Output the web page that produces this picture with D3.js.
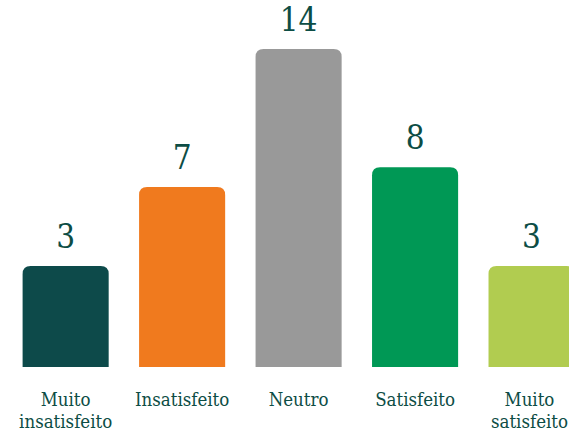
<!DOCTYPE html>
<html>
<head>
<meta charset="utf-8">
<script src="https://cdn.jsdelivr.net/npm/d3@7"></script>
<style>
  body { margin: 0; background: #fff; }
  svg { display: block; }
</style>
</head>
<body>
<div id="chart"></div>
<script>
(function() {
  const categories = ['Muito insatisfeito', 'Insatisfeito', 'Neutro', 'Satisfeito', 'Muito satisfeito']
  const values = [3, 7, 14, 8, 3]
  const labelLines = [['Muito', 'insatisfeito'], ['Insatisfeito'], ['Neutro'], ['Satisfeito'], ['Muito', 'satisfeito']]
  const colors = ['#0d4a4a', '#f07a1e', '#999999', '#009855', '#b1cc50']

  let width = 569
  let height = 434
  let baseline = 367

  let svg = d3.select('#chart')
    .append('svg')
    .attr('width', width)
    .attr('height', height)

  let xPositionScale = d3.scaleBand()
    .domain(categories)
    .range([22.6, 574.6])
    .paddingInner(0.261)
    .paddingOuter(0)

  let yPositionScale = d3.scaleLinear()
    .domain([-2.12, 14])
    .range([baseline, 49])

  let colorScale = d3.scaleOrdinal().domain(categories).range(colors)

  // bar with rounded top corners only
  function barPath(x, y, w, h, r) {
    return `M${x},${y + h}V${y + r}Q${x},${y} ${x + r},${y}H${x + w - r}Q${x + w},${y} ${x + w},${y + r}V${y + h}Z`
  }

  let data = categories.map((c, i) => ({ cat: c, value: values[i], lines: labelLines[i] }))

  svg.append('g')
    .selectAll('path')
    .data(data)
    .enter()
    .append('path')
    .attr('d', d => {
      let y = yPositionScale(d.value)
      return barPath(xPositionScale(d.cat), y, xPositionScale.bandwidth(), baseline - y, 8)
    })
    .attr('fill', d => colorScale(d.cat))

  svg.append('g')
    .selectAll('text')
    .data(data)
    .enter()
    .append('text')
    .attr('x', d => xPositionScale(d.cat) + xPositionScale.bandwidth() / 2)
    .attr('y', d => yPositionScale(d.value) - 18)
    .attr('text-anchor', 'middle')
    .attr('font-family', '"DejaVu Serif Condensed", "DejaVu Serif", serif')
    .attr('font-size', 33)
    .attr('fill', '#0d4d45')
    .text(d => d.value)

  let labels = svg.append('g')
    .selectAll('text')
    .data(data)
    .enter()
    .append('text')
    .attr('text-anchor', 'middle')
    .attr('font-family', '"DejaVu Serif Condensed", "DejaVu Serif", serif')
    .attr('font-size', 18.5)
    .attr('fill', '#0d4d45')

  labels.selectAll('tspan')
    .data(d => d.lines)
    .enter()
    .append('tspan')
    .attr('x', 0)
    .attr('dy', (d, i) => i === 0 ? 0 : 22)
    .text(d => d)

  // keep the last label inside the picture
  labels.attr('transform', function(d) {
    let cx = xPositionScale(d.cat) + xPositionScale.bandwidth() / 2
    let half = this.getBBox().width / 2
    cx = Math.min(cx, width - 1 - half)
    return `translate(${cx}, 406)`
  })
})()
</script>
</body>
</html>
